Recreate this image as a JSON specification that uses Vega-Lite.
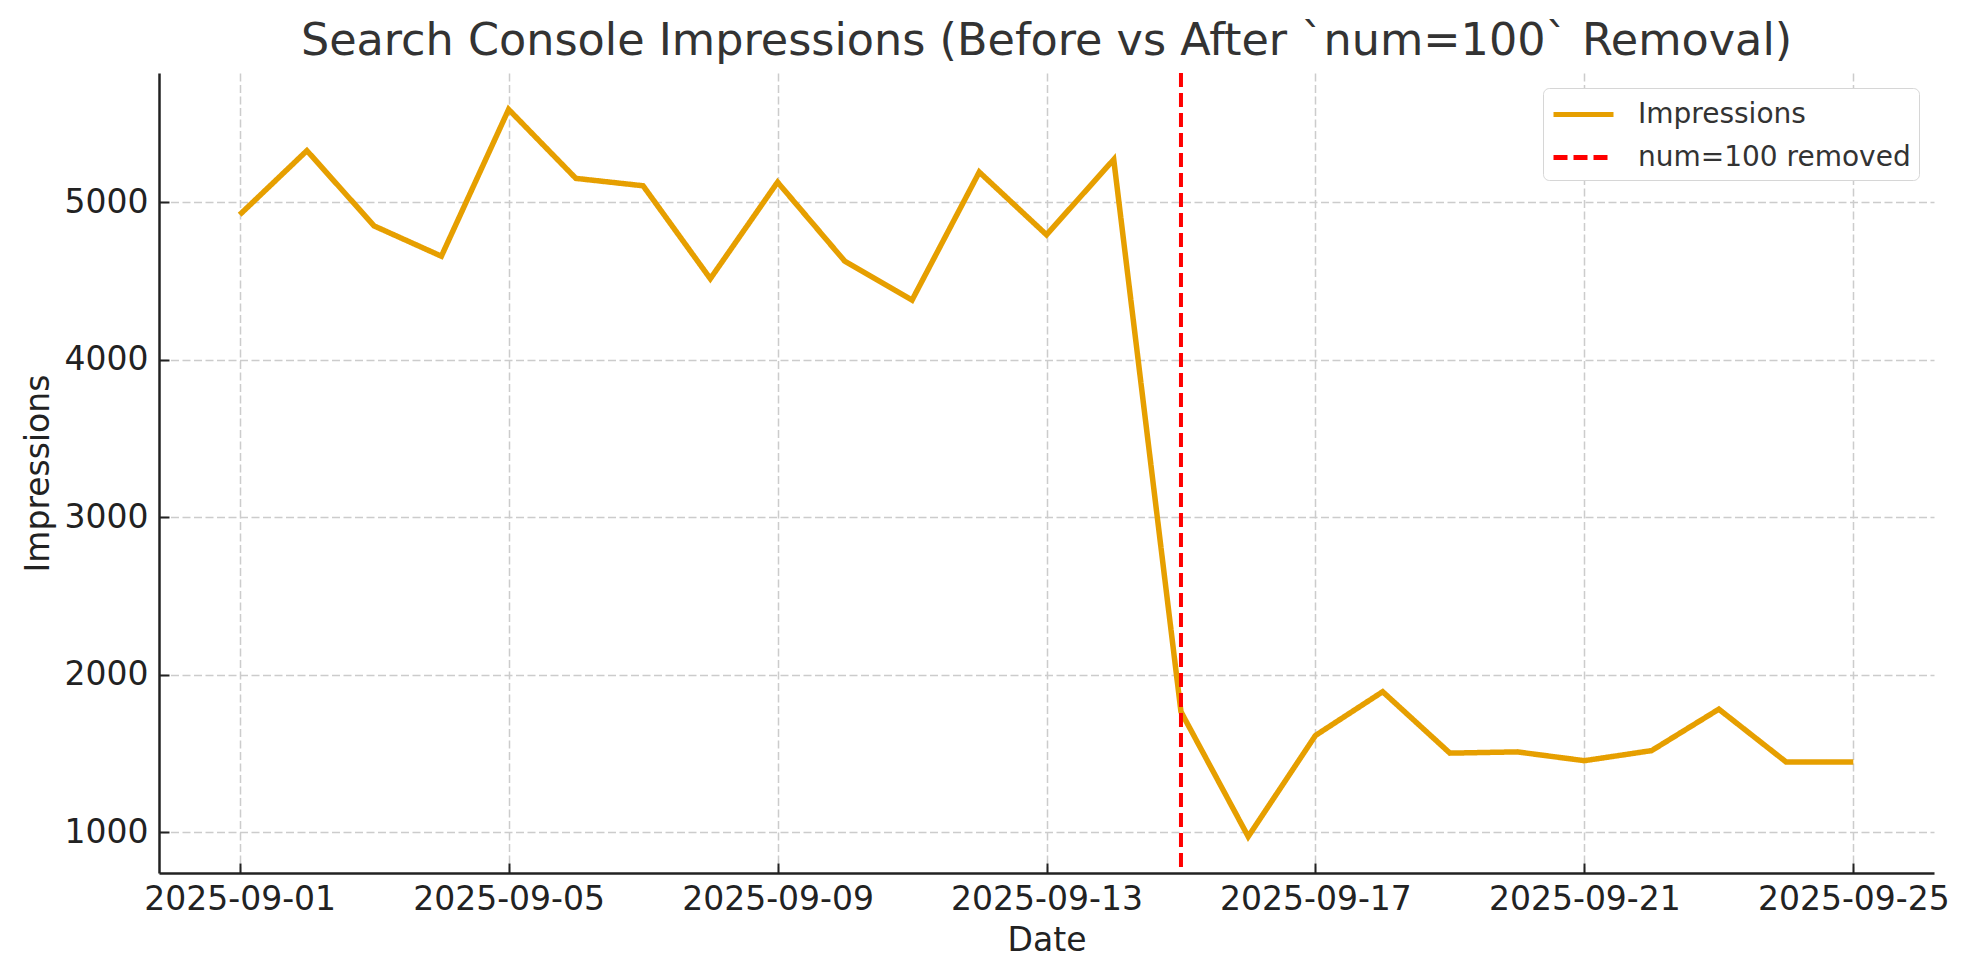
{
  "$schema": "https://vega.github.io/schema/vega-lite/v6.json",
  "width": 1775,
  "height": 800,
  "autosize": {"type": "none"},
  "padding": {"left": 159, "top": 73, "right": 35, "bottom": 107},
  "background": "white",
  "title": {
    "text": "Search Console Impressions (Before vs After `num=100` Removal)",
    "fontSize": 44.5,
    "font": "DejaVu Sans",
    "fontWeight": "normal",
    "color": "#333333",
    "anchor": "middle",
    "frame": "group",
    "baseline": "alphabetic",
    "offset": 16,
    "dy": 44,
    "limit": 0
  },
  "config": {
    "view": {"stroke": null},
    "font": "DejaVu Sans",
    "axis": {
      "labelFont": "DejaVu Sans",
      "labelFontSize": 33,
      "labelColor": "#222222",
      "labelLimit": 0,
      "titleFont": "DejaVu Sans",
      "titleFontSize": 33,
      "titleFontWeight": "normal",
      "titleColor": "#222222",
      "tickSize": -10,
      "tickWidth": 2,
      "tickColor": "#222222",
      "domainColor": "#222222",
      "domainWidth": 2.5,
      "gridColor": "#cccccc",
      "gridDash": [8, 3.5],
      "gridWidth": 1.5,
      "labelFlush": false,
      "labelOverlap": false
    },
    "legend": {
      "title": null,
      "orient": "top-right",
      "offset": 15,
      "symbolType": "M-1,0H2.75",
      "symbolSize": 1024,
      "symbolStrokeWidth": 5,
      "labelFont": "DejaVu Sans",
      "labelFontSize": 28,
      "labelColor": "#333333",
      "labelLimit": 0,
      "labelOffset": 50,
      "rowPadding": 10,
      "padding": 8,
      "strokeColor": "#d6d6d6",
      "cornerRadius": 6,
      "fillColor": "white"
    }
  },
  "datasets": {
    "impressions": [
      {"date": "2025-09-01", "impressions": 4920},
      {"date": "2025-09-02", "impressions": 5327},
      {"date": "2025-09-03", "impressions": 4849},
      {"date": "2025-09-04", "impressions": 4657},
      {"date": "2025-09-05", "impressions": 5589},
      {"date": "2025-09-06", "impressions": 5151},
      {"date": "2025-09-07", "impressions": 5104},
      {"date": "2025-09-08", "impressions": 4514},
      {"date": "2025-09-09", "impressions": 5127},
      {"date": "2025-09-10", "impressions": 4625},
      {"date": "2025-09-11", "impressions": 4378},
      {"date": "2025-09-12", "impressions": 5191},
      {"date": "2025-09-13", "impressions": 4793},
      {"date": "2025-09-14", "impressions": 5271},
      {"date": "2025-09-15", "impressions": 1765},
      {"date": "2025-09-16", "impressions": 972},
      {"date": "2025-09-17", "impressions": 1614},
      {"date": "2025-09-18", "impressions": 1892},
      {"date": "2025-09-19", "impressions": 1502},
      {"date": "2025-09-20", "impressions": 1510},
      {"date": "2025-09-21", "impressions": 1454},
      {"date": "2025-09-22", "impressions": 1518},
      {"date": "2025-09-23", "impressions": 1781},
      {"date": "2025-09-24", "impressions": 1446},
      {"date": "2025-09-25", "impressions": 1446}
    ],
    "removal": [
      {"date": "2025-09-15"}
    ]
  },
  "layer": [
    {
      "data": {"name": "impressions"},
      "mark": {"type": "line", "strokeWidth": 5.5, "strokeJoin": "miter", "strokeCap": "butt"},
      "encoding": {
        "x": {
          "field": "date",
          "type": "temporal",
          "scale": {
            "type": "utc",
            "nice": false,
            "domain": [
              {"year": 2025, "month": 8, "date": 30, "hours": 19, "minutes": 12, "utc": true},
              {"year": 2025, "month": 9, "date": 26, "hours": 4, "minutes": 48, "utc": true}
            ]
          },
          "axis": {
            "title": "Date",
            "format": "%Y-%m-%d",
            "values": [
              {"year": 2025, "month": 9, "date": 1, "utc": true},
              {"year": 2025, "month": 9, "date": 5, "utc": true},
              {"year": 2025, "month": 9, "date": 9, "utc": true},
              {"year": 2025, "month": 9, "date": 13, "utc": true},
              {"year": 2025, "month": 9, "date": 17, "utc": true},
              {"year": 2025, "month": 9, "date": 21, "utc": true},
              {"year": 2025, "month": 9, "date": 25, "utc": true}
            ],
            "labelPadding": 20,
            "labelBaseline": "top",
            "titleY": 67,
            "titleBaseline": "middle"
          }
        },
        "y": {
          "field": "impressions",
          "type": "quantitative",
          "scale": {"domain": [741, 5820], "nice": false, "zero": false},
          "axis": {
            "title": "Impressions",
            "values": [1000, 2000, 3000, 4000, 5000],
            "format": "d",
            "labelPadding": 21,
            "titleX": -121,
            "titleY": 400,
            "titleAngle": -90,
            "titleBaseline": "middle",
            "titleAnchor": "middle"
          }
        },
        "color": {
          "datum": "Impressions",
          "type": "nominal",
          "scale": {"domain": ["Impressions", "num=100 removed"], "range": ["#E69F00", "#FF0000"]},
          "legend": {"title": null}
        },
        "strokeDash": {
          "datum": "Impressions",
          "type": "nominal",
          "scale": {"domain": ["Impressions", "num=100 removed"], "range": [[1, 0], [14, 6]]},
          "legend": {"title": null}
        }
      }
    },
    {
      "data": {"name": "removal"},
      "mark": {"type": "rule", "strokeWidth": 4},
      "encoding": {
        "x": {"field": "date", "type": "temporal"},
        "color": {"datum": "num=100 removed", "type": "nominal"},
        "strokeDash": {"datum": "num=100 removed", "type": "nominal"}
      }
    }
  ]
}
